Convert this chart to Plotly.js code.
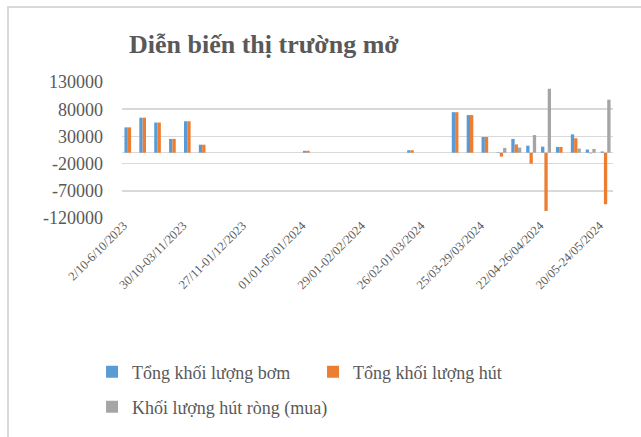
<!DOCTYPE html>
<html>
<head>
<meta charset="utf-8">
<script src="https://cdn.plot.ly/plotly-3.0.1.min.js"></script>
<style>
  html, body { margin: 0; padding: 0; background: #ffffff; }
  #wrap { position: relative; width: 641px; height: 437px; overflow: hidden; }
  #chart { position: absolute; left: 0; top: 0; width: 641px; height: 437px; }
  #frame { position: absolute; left: 7px; top: 6px; width: 700px; height: 500px;
           border-top: 2px solid #d9d9d9; border-left: 2px solid #d9d9d9; pointer-events: none; }
</style>
</head>
<body>
<div id="wrap">
  <div id="chart"></div>
  <div id="frame"></div>
</div>
<script>
const categories = [
  "2/10-6/10/2023", "09/10-13/10/2023", "16/10-20/10/2023", "23/10-27/10/2023",
  "30/10-03/11/2023", "06/11-10/11/2023", "13/11-17/11/2023", "20/11-24/11/2023",
  "27/11-01/12/2023", "04/12-08/12/2023", "11/12-15/12/2023", "18/12-22/12/2023",
  "01/01-05/01/2024", "08/01-12/01/2024", "15/01-19/01/2024", "22/01-26/01/2024",
  "29/01-02/02/2024", "05/02-09/02/2024", "12/02-16/02/2024", "19/02-23/02/2024",
  "26/02-01/03/2024", "04/03-08/03/2024", "11/03-15/03/2024", "18/03-22/03/2024",
  "25/03-29/03/2024", "01/04-05/04/2024", "08/04-12/04/2024", "15/04-19/04/2024",
  "22/04-26/04/2024", "29/04-03/05/2024", "06/05-10/05/2024", "13/05-17/05/2024",
  "20/05-24/05/2024"
];

const tongBom = [
  46600, 64400, 55500, 25400, 57800, 14700, null, null, null, null, null, null,
  3500, null, null, null, null, null, null, 4500, null, null, 74500, 69200,
  28900, 800, 25400, 12900, 11200, 10600, 33700, 5900, 2300
];

const tongHut = [
  46600, 64400, 55500, 25400, 57800, 14700, null, null, null, null, null, null,
  3500, null, null, null, null, null, null, 4500, null, null, 74500, 69200,
  28900, -7100, 15300, -20200, -107000, 10600, 26600, -1200, -94700
];

const hutRong = [
  null, null, null, null, null, null, null, null, null, null, null, null,
  null, null, null, null, null, null, null, null, null, null, null, null,
  null, 8900, 9400, 32400, 117600, null, 7600, 7000, 97500
];

const seriesNames = ["Tổng khối lượng bơm", "Tổng khối lượng hút", "Khối lượng hút ròng (mua)"];
const tickCats = ["2/10-6/10/2023", "30/10-03/11/2023", "27/11-01/12/2023", "01/01-05/01/2024",
  "29/01-02/02/2024", "26/02-01/03/2024", "25/03-29/03/2024", "22/04-26/04/2024", "20/05-24/05/2024"];
const yTicks = [-120000, -70000, -20000, 30000, 80000, 130000];

const FONT = "'Liberation Serif', 'Times New Roman', serif";
const TXT = "#595959";

const traces = [
  { type: "bar", name: seriesNames[0], x: categories, y: tongBom, marker: { color: "#5B9BD5" }, legend: "legend" },
  { type: "bar", name: seriesNames[1], x: categories, y: tongHut, marker: { color: "#ED7D31" }, legend: "legend" },
  { type: "bar", name: seriesNames[2], x: categories, y: hutRong, marker: { color: "#A5A5A5" }, legend: "legend2" }
];

const layout = {
  width: 641, height: 437,
  margin: { l: 122, r: 28, t: 82, b: 214, pad: 0 },
  paper_bgcolor: "rgba(0,0,0,0)", plot_bgcolor: "rgba(0,0,0,0)",
  font: { family: FONT, color: TXT },
  barmode: "group", bargap: 0.33, bargroupgap: 0,
  title: {
    text: "<b>Diễn biến thị trường mở</b>",
    font: { family: FONT, size: 26, color: TXT },
    x: 0.289, xref: "paper", xanchor: "center",
    y: 0.899, yref: "container", yanchor: "middle"
  },
  xaxis: {
    type: "category",
    tickmode: "array", tickvals: tickCats, ticktext: tickCats,
    tickangle: -45, tickfont: { family: FONT, size: 12.5, color: TXT },
    ticklabelshift: -6, ticklabelstandoff: -3,
    showgrid: false, showline: false, ticks: "", zeroline: false
  },
  yaxis: {
    range: [-120000, 130000], tickmode: "array", tickvals: yTicks,
    ticktext: yTicks.map(String),
    tickfont: { family: FONT, size: 18, color: TXT },
    showgrid: true, gridcolor: "#d9d9d9", gridwidth: 1.5,
    zeroline: true, zerolinecolor: "#d9d9d9", zerolinewidth: 1.5,
    showline: false, ticks: "", ticklabelstandoff: 18
  },
  showlegend: true,
  legend: {
    orientation: "h", x: -0.061, xanchor: "left", y: -1.132, yanchor: "middle",
    entrywidth: 176, entrywidthmode: "pixels", itemwidth: 30,
    font: { family: FONT, size: 18, color: TXT }, bgcolor: "rgba(0,0,0,0)"
  },
  legend2: {
    orientation: "h", x: -0.061, xanchor: "left", y: -1.39, yanchor: "middle",
    itemwidth: 30,
    font: { family: FONT, size: 18, color: TXT }, bgcolor: "rgba(0,0,0,0)"
  },
  hovermode: false
};

Plotly.newPlot("chart", traces, layout, { displayModeBar: false, staticPlot: true });
</script>
</body>
</html>
